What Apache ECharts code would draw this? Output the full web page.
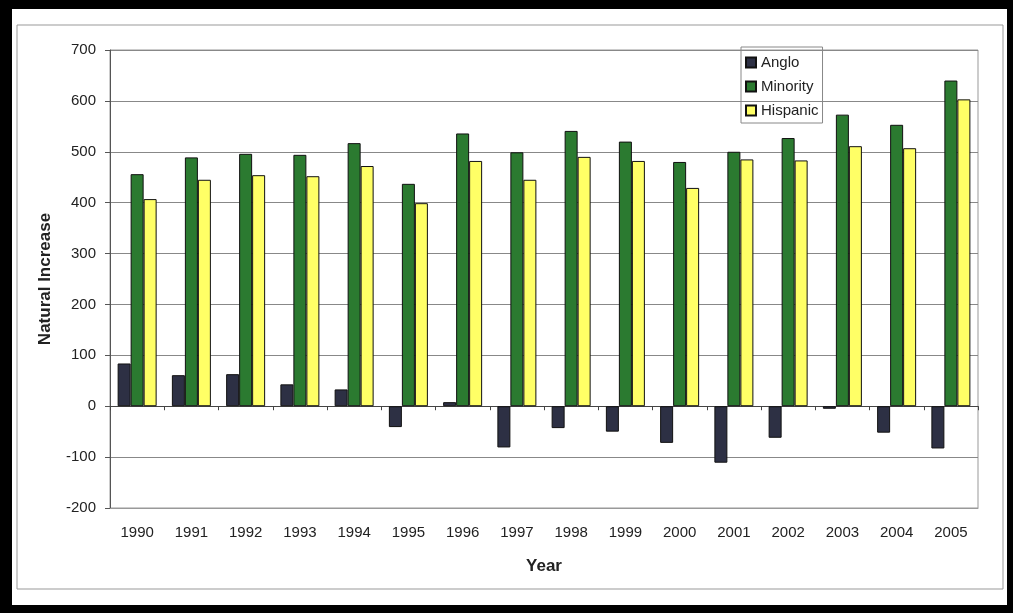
<!DOCTYPE html>
<html>
<head>
<meta charset="utf-8">
<script src="https://cdn.jsdelivr.net/npm/echarts@6/dist/echarts.min.js"></script>
<style>
  html, body { margin: 0; padding: 0; background: #000; }
  #chart { position: absolute; left: 12px; top: 9px; width: 995px; height: 596px; background: #fff; }
</style>
</head>
<body>
<div id="chart"></div>
<script>
// data
const years = ['1990', '1991', '1992', '1993', '1994', '1995', '1996', '1997',
  '1998', '1999', '2000', '2001', '2002', '2003', '2004', '2005']
const anglo = [84, 61, 63, 43, 33, -41, 8, -81, -43, -50, -72, -111, -62, -5, -52, -83]
const minority = [456, 489, 496, 494, 517, 437, 536, 499, 541, 520, 480, 500, 527, 573, 553, 640]
const hispanic = [407, 445, 454, 452, 472, 399, 482, 445, 490, 482, 429, 485, 483, 511, 507, 603]

const chart = echarts.init(document.getElementById('chart'))
const font = 'Liberation Sans, Arial, sans-serif'

function barSeries (name, data, color) {
  return {
    name: name,
    type: 'bar',
    data: data,
    barWidth: 13,
    barGap: '0%',
    itemStyle: { color: color, borderColor: '#111', borderWidth: 1 }
  }
}

chart.setOption({
  animation: false,
  textStyle: { fontFamily: font },
  grid: {
    left: 98, right: 29, top: 41, bottom: 97,
    show: true, borderColor: '#999', borderWidth: 1
  },
  // outer chart-area border
  graphic: [{
    type: 'rect',
    shape: { x: 5, y: 16, width: 986, height: 564 },
    style: { fill: 'none', stroke: '#999', lineWidth: 1 }
  }],
  legend: {
    orient: 'vertical',
    left: 729, top: 38,
    padding: [8, 4, 5, 4],
    borderColor: '#888', borderWidth: 1,
    itemWidth: 10, itemHeight: 10, itemGap: 9,
    icon: 'rect',
    textStyle: { fontSize: 15, color: '#222', fontFamily: font },
    data: ['Anglo', 'Minority', 'Hispanic']
  },
  xAxis: [{
    // axis line and ticks at zero
    type: 'category',
    data: years,
    position: 'bottom',
    axisLine: { onZero: true, lineStyle: { color: '#444', width: 1 } },
    axisTick: { show: true, length: 4, lineStyle: { color: '#444' } },
    axisLabel: { show: false }
  }, {
    // labels below the plot
    type: 'category',
    data: years,
    position: 'bottom',
    axisLine: { onZero: false, lineStyle: { color: '#999' } },
    axisTick: { show: false },
    axisLabel: { margin: 17, fontSize: 15, color: '#222' },
    name: 'Year',
    nameLocation: 'middle',
    nameGap: 50,
    nameTextStyle: { fontSize: 17, fontWeight: 'bold', color: '#222' }
  }],
  yAxis: {
    type: 'value',
    min: -200, max: 700, interval: 100,
    name: 'Natural Increase',
    nameLocation: 'middle',
    nameGap: 56,
    nameTextStyle: { fontSize: 17, fontWeight: 'bold', color: '#222' },
    axisLine: { show: true, lineStyle: { color: '#555' } },
    axisTick: { show: true, length: 5, lineStyle: { color: '#555' } },
    axisLabel: { margin: 14, fontSize: 15, color: '#222' },
    splitLine: { lineStyle: { color: '#888', width: 1 } }
  },
  series: [
    barSeries('Anglo', anglo, '#2d3044'),
    barSeries('Minority', minority, '#2b7a30'),
    barSeries('Hispanic', hispanic, '#ffff66')
  ]
})
</script>
</body>
</html>
